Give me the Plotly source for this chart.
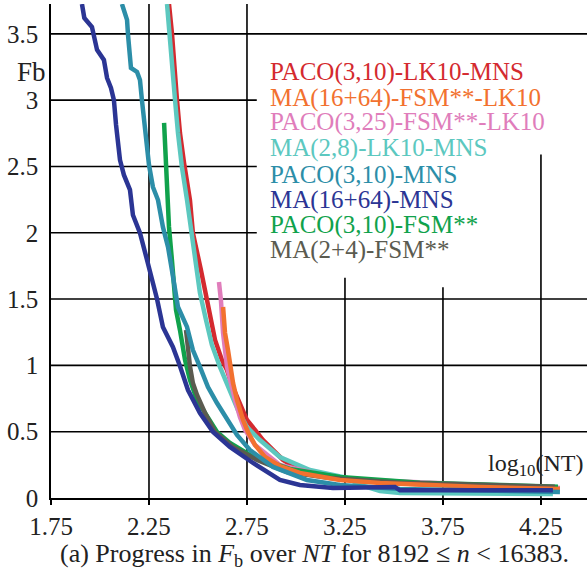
import plotly.graph_objects as go

# ---- data (x = log10(NT), y = Fb) ----
names = ["PACO(3,10)-LK10-MNS", "MA(16+64)-FSM**-LK10", "PACO(3,25)-FSM**-LK10",
         "MA(2,8)-LK10-MNS", "PACO(3,10)-MNS", "MA(16+64)-MNS",
         "PACO(3,10)-FSM**", "MA(2+4)-FSM**"]
colors = ["#D42A2F", "#F2712F", "#E07DBB", "#5CC8BF", "#2C8EA8", "#2B3594", "#10A24C", "#5B5B50"]

red_x = [2.352, 2.367, 2.393, 2.408, 2.429, 2.459, 2.474, 2.495, 2.515, 2.546, 2.571, 2.587, 2.622, 2.648, 2.673, 2.704, 2.750, 2.791, 2.832, 2.934, 3.020, 3.158, 3.531, 4.321]
red_y = [3.725, 3.507, 3.0, 2.753, 2.526, 2.247, 1.998, 1.870, 1.719, 1.493, 1.290, 1.192, 1.041, 0.965, 0.852, 0.739, 0.588, 0.513, 0.437, 0.287, 0.211, 0.160, 0.110, 0.072]

orange_x = [2.628, 2.638, 2.653, 2.679, 2.699, 2.730, 2.755, 2.791, 2.842, 2.918, 3.020, 3.224, 3.429, 3.939, 4.347]
orange_y = [1.440, 1.244, 1.116, 0.867, 0.739, 0.588, 0.498, 0.400, 0.309, 0.241, 0.189, 0.136, 0.113, 0.083, 0.068]

pink_x = [2.607, 2.617, 2.628, 2.648, 2.689, 2.714, 2.740, 2.791, 2.918, 3.224, 4.347]
pink_y = [1.629, 1.493, 1.244, 0.988, 0.739, 0.611, 0.513, 0.400, 0.249, 0.143, 0.075]

turq_x = [2.342, 2.357, 2.367, 2.383, 2.398, 2.418, 2.444, 2.469, 2.490, 2.510, 2.541, 2.571, 2.612, 2.653, 2.704, 2.750, 2.816, 2.918, 3.071, 3.260, 3.327, 3.429, 3.531, 4.311]
turq_y = [3.725, 3.492, 3.303, 3.0, 2.753, 2.496, 2.247, 1.998, 1.795, 1.546, 1.342, 1.154, 0.988, 0.837, 0.664, 0.535, 0.437, 0.309, 0.211, 0.151, 0.098, 0.053, 0.038, 0.030]

teal_x = [2.112, 2.138, 2.143, 2.153, 2.158, 2.189, 2.204, 2.214, 2.230, 2.250, 2.270, 2.296, 2.321, 2.347, 2.367, 2.398, 2.444, 2.474, 2.510, 2.551, 2.597, 2.648, 2.699, 2.765, 2.883, 3.056, 3.224, 3.531, 4.347]
teal_y = [3.725, 3.605, 3.492, 3.303, 3.243, 3.213, 3.152, 3.0, 2.775, 2.511, 2.345, 2.247, 2.044, 1.893, 1.719, 1.440, 1.290, 1.116, 0.988, 0.837, 0.716, 0.588, 0.475, 0.362, 0.234, 0.136, 0.098, 0.068, 0.045]

navy_x = [1.908, 1.920, 1.959, 1.985, 2.020, 2.036, 2.056, 2.071, 2.082, 2.102, 2.122, 2.153, 2.168, 2.204, 2.240, 2.270, 2.291, 2.321, 2.372, 2.408, 2.449, 2.510, 2.577, 2.663, 2.781, 2.918, 3.020, 3.189, 3.505, 3.530, 4.311]
navy_y = [3.725, 3.620, 3.552, 3.379, 3.303, 3.167, 3.092, 3.0, 2.813, 2.549, 2.436, 2.323, 2.134, 1.998, 1.795, 1.621, 1.501, 1.290, 1.139, 0.995, 0.814, 0.641, 0.498, 0.385, 0.264, 0.136, 0.098, 0.075, 0.083, 0.058, 0.058]

green_x = [2.327, 2.337, 2.342, 2.352, 2.367, 2.378, 2.388, 2.408, 2.434, 2.459, 2.495, 2.536, 2.597, 2.663, 2.765, 2.867, 2.969, 3.224, 3.633, 4.337]
green_y = [2.828, 2.549, 2.323, 2.044, 1.795, 1.546, 1.418, 1.267, 1.041, 0.890, 0.739, 0.641, 0.498, 0.415, 0.324, 0.271, 0.219, 0.158, 0.115, 0.085]

gray_x = [2.439, 2.449, 2.459, 2.474, 2.495, 2.536, 2.587, 2.679, 2.801, 2.954, 3.173, 3.531, 4.321]
gray_y = [1.267, 1.116, 0.995, 0.867, 0.777, 0.641, 0.498, 0.385, 0.287, 0.196, 0.151, 0.115, 0.085]

series_x = [red_x, orange_x, pink_x, turq_x, teal_x, navy_x, green_x, gray_x]
series_y = [red_y, orange_y, pink_y, turq_y, teal_y, navy_y, green_y, gray_y]
draw_order = [0, 3, 2, 6, 7, 1, 4, 5]

x_ticks = [1.75, 2.25, 2.75, 3.25, 3.75, 4.25]
x_tick_labels = ["1.75", "2.25", "2.75", "3.25", "3.75", "4.25"]
y_ticks = [0, 0.5, 1, 1.5, 2, 2.5, 3, 3.5]
y_tick_labels = ["0", "0.5", "1", "1.5", "2", "2.5", "3", "3.5"]

FONT = "Liberation Serif"
XMIN, XMAX = 1.75, 4.485
YMIN, YMAX = 0, 3.725

fig = go.Figure()
for i in draw_order:
    fig.add_trace(go.Scatter(x=series_x[i], y=series_y[i], mode="lines", name=names[i],
                             line=dict(color=colors[i], width=4.5), showlegend=False))

# grid lines (partially hidden behind the text block, as in the reference)
grid_h = [(0.5, XMAX), (1.0, XMAX), (1.5, XMAX), (2.0, 2.80), (2.5, 2.80), (3.0, 2.80), (3.5, XMAX)]
for yv, xe in grid_h:
    fig.add_shape(type="line", x0=XMIN, x1=xe, y0=yv, y1=yv, xref="x", yref="y",
                  line=dict(color="black", width=1.6), layer="below")
grid_v = [(2.25, YMAX), (2.75, YMAX), (3.25, 1.66), (3.75, 1.59), (4.25, 2.59)]
for xv, ye in grid_v:
    fig.add_shape(type="line", x0=xv, x1=xv, y0=0, y1=ye, xref="x", yref="y",
                  line=dict(color="black", width=1.6), layer="below")

# text legend
legend_y = [3.213, 3.017, 2.836, 2.640, 2.436, 2.247, 2.059, 1.870]
for i, nm in enumerate(names):
    fig.add_annotation(x=2.857, y=legend_y[i], xref="x", yref="y", text=nm, showarrow=False,
                       xanchor="left", yanchor="middle",
                       font=dict(family=FONT, size=25, color=colors[i]))

fig.add_annotation(x=XMIN, y=3.21, xref="x", yref="y", text="Fb", showarrow=False,
                   xanchor="right", yanchor="middle", xshift=-3,
                   font=dict(family=FONT, size=27, color="#222"))
fig.add_annotation(x=1.0, y=0.25, xref="paper", yref="y", text="log<sub>10</sub>(NT)",
                   showarrow=False, xanchor="right", yanchor="middle", xshift=-2,
                   font=dict(family=FONT, size=24, color="#222"))
fig.add_annotation(x=0.4925, y=-0.116, xref="paper", yref="paper",
                   text="(a) Progress in <i>F</i><sub>b</sub> over <i>NT</i> for 8192 \u2264 <i>n</i> &lt; 16383.",
                   showarrow=False, xanchor="center", yanchor="middle",
                   font=dict(family=FONT, size=26, color="#222"))

fig.update_layout(
    width=587, height=572,
    margin=dict(l=51, r=0, t=4, b=74),
    paper_bgcolor="white", plot_bgcolor="white",
    xaxis=dict(range=[XMIN, XMAX], tickvals=x_ticks, ticktext=x_tick_labels, automargin=False,
               showgrid=False, zeroline=False, showline=True, linecolor="black", linewidth=1.6,
               ticks="outside", ticklen=5, tickwidth=1.6, tickcolor="black",
               tickfont=dict(family=FONT, size=25, color="#222")),
    yaxis=dict(range=[YMIN, YMAX], tickvals=y_ticks, ticktext=y_tick_labels, automargin=False,
               showgrid=False, zeroline=False, showline=True, linecolor="black", linewidth=1.6,
               ticks="", ticklabelstandoff=6,
               tickfont=dict(family=FONT, size=25, color="#222")),
)

fig.write_html("out.html", config={"displayModeBar": False},
               post_script="document.body.style.margin='0px';document.body.style.overflow='hidden';")
